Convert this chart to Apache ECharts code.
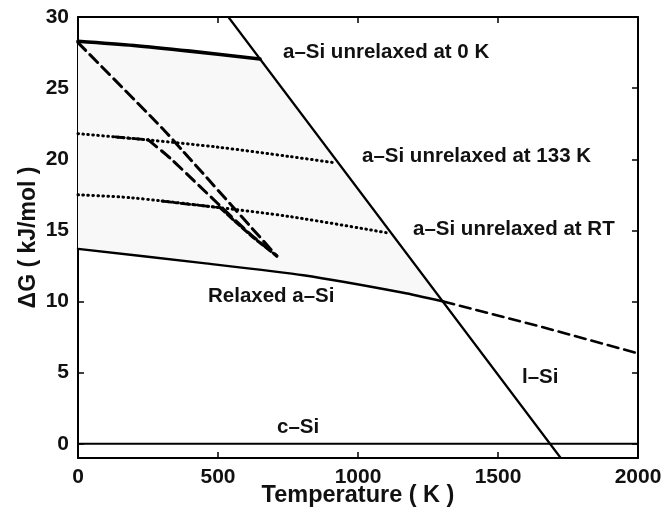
<!DOCTYPE html>
<html>
<head>
<meta charset="utf-8">
<script src="https://cdn.jsdelivr.net/npm/echarts@6/dist/echarts.min.js"></script>
<style>
  html, body { margin: 0; padding: 0; background: #fff; }
  #chart { width: 665px; height: 514px; }
</style>
</head>
<body>
<div id="chart"></div>
<script>
// Tick values
const xTicks = [0, 500, 1000, 1500, 2000];
const yTicks = [0, 5, 10, 15, 20, 25, 30];

// Free-energy curves, [T (K), ΔG (kJ/mol)]
const cSi = [[0, 0], [2000, 0]];
const lSi = [[537, 30], [1724, -1]];
const unrelaxed0K = [[0, 28.3], [200, 28.0], [400, 27.6], [650, 27.05]];
const unrelaxed133K = [[0, 21.8], [250, 21.36], [500, 20.85], [757, 20.19], [918, 19.75]];
const unrelaxedRT = [[0, 17.5], [186, 17.3], [471, 16.68], [757, 15.97], [1104, 14.83]];
const relaxed = [[0, 13.7], [448, 12.7], [805, 11.85], [1162, 10.62], [1305, 10.0]];
const relaxedAboveMelt = [[1305, 10.0], [1650, 8.25], [2000, 6.35]];

// Annealing paths
const anneal0K = [[0, 28.2], [300, 22.2], [376, 20.55], [710, 13.2]];
const hold133K = [[133, 21.57], [251, 21.36]];
const anneal133K = [[251, 21.36], [329, 20.08], [602, 14.97], [710, 13.2]];
const holdRT = [[300, 17.05], [507, 16.6]];
const annealRT = [[507, 16.6], [560, 15.65], [620, 14.6], [710, 13.2]];

const FONT = '"Liberation Sans", Arial, Helvetica, sans-serif';
const DOTTED = [0.6, 4.4];
const DASHED = [11, 6];
const DASHDOT = [9, 4, 2, 4];

function line(data, width, type, extra) {
  return Object.assign({
    type: 'line',
    data: data,
    showSymbol: false,
    symbol: 'none',
    silent: true,
    animation: false,
    clip: true,
    lineStyle: { color: '#000', width: width, type: type, cap: 'round', join: 'round' },
    z: 3
  }, extra || {});
}

const axisCommon = {
  type: 'value',
  axisLine: { onZero: false, lineStyle: { color: '#000', width: 2 } },
  axisTick: { inside: true, length: 6, lineStyle: { color: '#000', width: 1.5 } },
  splitLine: { show: false }
};

const labelStyle = { color: '#111', fontFamily: FONT, fontWeight: 'bold', fontSize: 21 };

const chart = echarts.init(document.getElementById('chart'), null, { renderer: 'canvas' });

const notes = [
  { text: 'a–Si unrelaxed at 0 K', left: 283, cy: 53 },
  { text: 'a–Si unrelaxed at 133 K', left: 362, cy: 157 },
  { text: 'a–Si unrelaxed at RT', left: 413, cy: 230 },
  { text: 'Relaxed a–Si', left: 208, cy: 297 },
  { text: 'c–Si', left: 277, cy: 428 },
  { text: 'l–Si', left: 522, cy: 378 }
];

chart.setOption({
  animation: false,
  backgroundColor: '#fff',
  grid: { left: 78, right: 27, top: 17, bottom: 56, containLabel: false, outerBoundsMode: 'none' },
  xAxis: [
    Object.assign({}, axisCommon, {
      position: 'bottom', min: 0, max: 2000, interval: 500,
      axisLabel: Object.assign({ margin: 9, formatter: function (v) { return String(v); } }, labelStyle),
      name: 'Temperature ( K )', nameLocation: 'middle', nameGap: 26, nameMoveOverlap: false,
      nameTextStyle: { color: '#111', fontFamily: FONT, fontWeight: 'bold', fontSize: 23.5, verticalAlign: 'top' }
    }),
    Object.assign({}, axisCommon, {
      position: 'top', min: 0, max: 2000, interval: 500,
      axisLabel: { show: false }
    })
  ],
  yAxis: [
    Object.assign({}, axisCommon, {
      position: 'left', min: -1, max: 30,
      axisTick: Object.assign({}, axisCommon.axisTick, { customValues: yTicks }),
      axisLabel: Object.assign({ margin: 9, customValues: yTicks }, labelStyle),
      name: 'ΔG ( kJ/mol )', nameLocation: 'middle', nameGap: 38, nameMoveOverlap: false,
      nameTextStyle: { color: '#111', fontFamily: FONT, fontWeight: 'bold', fontSize: 23 }
    }),
    Object.assign({}, axisCommon, {
      position: 'right', min: -1, max: 30,
      axisTick: Object.assign({}, axisCommon.axisTick, { customValues: yTicks }),
      axisLabel: { show: false, customValues: yTicks }
    })
  ],
  series: [
    {
      // faint shading of the unrelaxed region
      type: 'custom',
      silent: true,
      z: 1,
      data: [[0, 0]],
      renderItem: function (params, api) {
        const pts = unrelaxed0K.concat(relaxed.slice().reverse()).map(function (p) { return api.coord(p); });
        return { type: 'polygon', shape: { points: pts }, style: { fill: '#f8f8f8' } };
      }
    },
    line(cSi, 2),
    line(lSi, 2.2),
    line(unrelaxed0K, 3.6, 'solid', { smooth: 0.3 }),
    line(relaxed, 2.4, 'solid', { smooth: 0.2 }),
    line(relaxedAboveMelt, 2.6, DASHED),
    line(unrelaxed133K, 3, DOTTED, { smooth: 0.3 }),
    line(unrelaxedRT, 3, DOTTED, { smooth: 0.3 }),
    line(anneal0K, 3, DASHED, { smooth: 0.2 }),
    line(hold133K, 2.8, DASHDOT),
    line(anneal133K, 3, DASHED, { smooth: 0.2 }),
    line(holdRT, 2.8, DASHDOT),
    line(annealRT, 3, [7, 3], { smooth: 0.2 })
  ],
  graphic: notes.map(function (n) {
    return {
      type: 'text',
      left: n.left,
      top: n.cy - 11,
      z: 10,
      style: { text: n.text, fill: '#111', font: 'bold 20.5px ' + FONT }
    };
  })
});
</script>
</body>
</html>
